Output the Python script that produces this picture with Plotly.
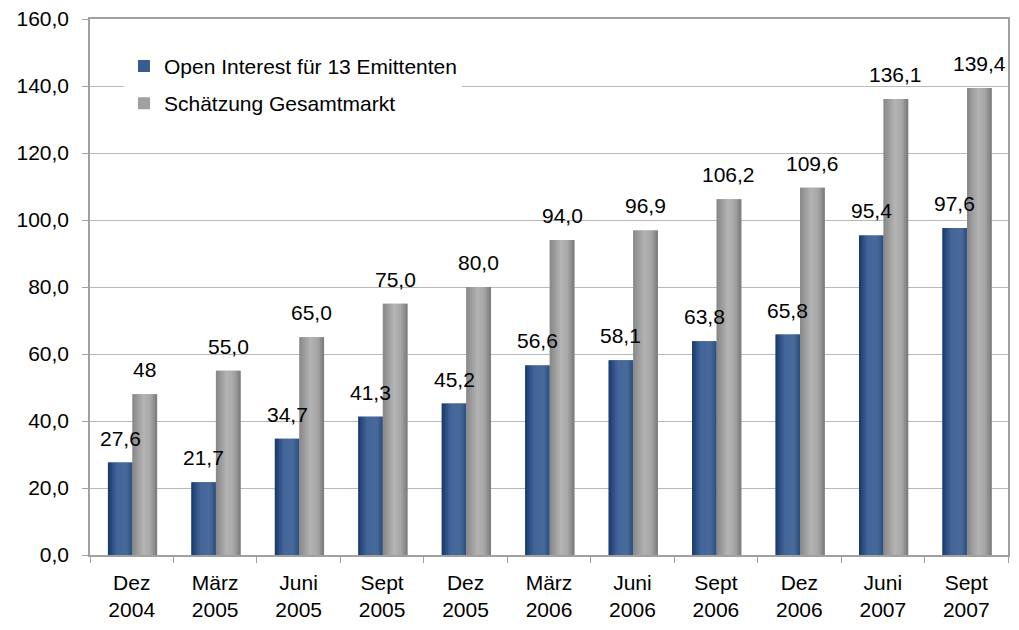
import plotly.graph_objects as go

# data
monate = ["Dez", "März", "Juni", "Sept", "Dez", "März", "Juni", "Sept", "Dez", "Juni", "Sept"]
jahre = ["2004", "2005", "2005", "2005", "2005", "2006", "2006", "2006", "2006", "2007", "2007"]
open_interest = [27.6, 21.7, 34.7, 41.3, 45.2, 56.6, 58.1, 63.8, 65.8, 95.4, 97.6]
gesamtmarkt = [48.0, 55.0, 65.0, 75.0, 80.0, 94.0, 96.9, 106.2, 109.6, 136.1, 139.4]
oi_labels = ["27,6", "21,7", "34,7", "41,3", "45,2", "56,6", "58,1", "63,8", "65,8", "95,4", "97,6"]
gm_labels = ["48", "55,0", "65,0", "75,0", "80,0", "94,0", "96,9", "106,2", "109,6", "136,1", "139,4"]

kategorien = [f"{m}<br>{j}" for m, j in zip(monate, jahre)]

FONT = "Liberation Sans, Arial, sans-serif"
FS = 21
BW = 0.294   # bar width in category units
N = 12       # strips per bar for the cylinder shading


def hex2rgb(h):
    h = h.lstrip("#")
    return [int(h[i:i + 2], 16) for i in (0, 2, 4)]


def shade(stops, t):
    # stops: list of (pos, hex)
    for (p0, c0), (p1, c1) in zip(stops, stops[1:]):
        if p0 <= t <= p1:
            f = (t - p0) / (p1 - p0) if p1 > p0 else 0
            a, b = hex2rgb(c0), hex2rgb(c1)
            return "rgb(%d,%d,%d)" % tuple(round(a[i] + (b[i] - a[i]) * f) for i in range(3))
    return stops[-1][1]


blau = [(0, "#17366a"), (0.35, "#43659a"), (0.75, "#4a6c9a"), (1, "#2b4c80")]
grau = [(0, "#868686"), (0.45, "#b4b4b4"), (0.75, "#a6a6a6"), (1, "#777777")]

fig = go.Figure()

serien = [
    ("Open Interest für 13 Emittenten", open_interest, -0.285, blau, "#3a5c8c"),
    ("Schätzung Gesamtmarkt", gesamtmarkt, 0.009, grau, "#a0a0a0"),
]

for name, werte, off, stops, mitte in serien:
    fig.add_trace(go.Bar(
        x=kategorien, y=werte, name=name, width=BW, offset=off,
        marker=dict(color=mitte, line=dict(width=0)),
        legendgroup=name, hoverinfo="skip",
    ))
    for k in range(N):
        t = (k + 0.5) / N
        fig.add_trace(go.Bar(
            x=kategorien, y=werte, width=BW / N + 0.002, offset=off + k * BW / N,
            marker=dict(color=shade(stops, t), line=dict(width=0)),
            showlegend=False, hoverinfo="skip", legendgroup=name,
        ))

# value labels above the bars
for i, (v, s) in enumerate(zip(open_interest, oi_labels)):
    fig.add_annotation(x=i - 0.285 + BW / 2, y=v, text=s, showarrow=False,
                       yanchor="bottom", yshift=11, font=dict(size=FS, color="black", family=FONT))
for i, (v, s) in enumerate(zip(gesamtmarkt, gm_labels)):
    fig.add_annotation(x=i + 0.009 + BW / 2, y=v, text=s, showarrow=False,
                       yanchor="bottom", yshift=11, font=dict(size=FS, color="black", family=FONT))

fig.update_layout(
    width=1019, height=630,
    barmode="overlay",
    separators=", ",
    paper_bgcolor="white", plot_bgcolor="white",
    margin=dict(l=90, r=11, t=19, b=75),
    font=dict(family=FONT, size=FS, color="black"),
    showlegend=True,
    legend=dict(x=0.037, y=0.95, xanchor="left", yanchor="top",
                bgcolor="white", font=dict(size=FS, family=FONT),
                traceorder="grouped", tracegroupgap=7),
    xaxis=dict(
        type="category", showline=True, linecolor="#a0a0a0", linewidth=1.5,
        mirror=True, ticks="outside", tickson="boundaries", ticklen=6,
        tickcolor="#a0a0a0", showgrid=False, tickfont=dict(size=FS),
        ticklabelstandoff=8, automargin=False,
    ),
    yaxis=dict(
        range=[0, 160], dtick=20, tickformat=".1f",
        showline=True, linecolor="#a0a0a0", linewidth=1.5, mirror=True,
        ticks="outside", ticklen=6, tickcolor="#a0a0a0",
        gridcolor="#b8b8b8", gridwidth=1, zeroline=False,
        tickfont=dict(size=FS), ticklabelstandoff=9, automargin=False,
        ticklabeloverflow="allow",
    ),
)

# drop the default 8px body margin so the figure sits flush at the page corner
fig.write_html("out.html", config={"displayModeBar": False},
               post_script="document.body.style.margin='0';")
